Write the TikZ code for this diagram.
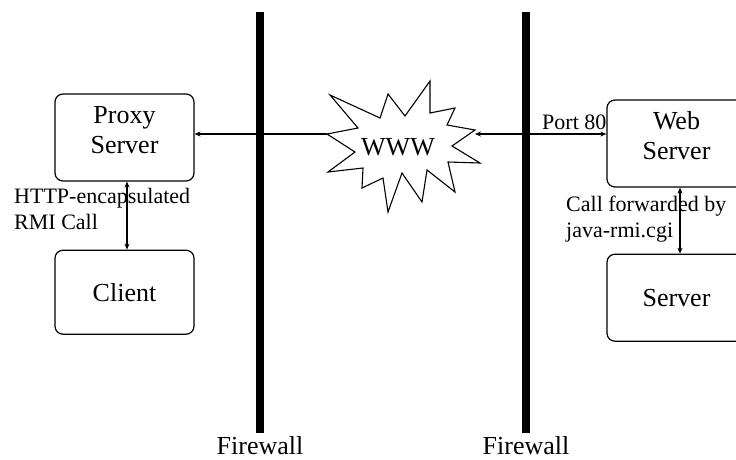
\documentclass[tikz,border=0pt]{standalone}
\usepackage{fontspec}
\setmainfont{Liberation Serif}
\usetikzlibrary{positioning,arrows.meta}

\tikzset{
	box/.style={draw, line width=1.2pt, rounded corners=8pt, minimum width=139pt, minimum height=87pt, align=center, font=\fontsize{26}{30}\selectfont},
	twoline/.style={text depth=16pt},
	wall/.style={line width=8pt},
	link/.style={line width=1.1pt, >={Stealth[length=6pt,width=5pt]}},
	lbl/.style={inner sep=0pt, align=left, font=\fontsize{22}{26}\selectfont},
}

\begin{document}
\begin{tikzpicture}[x=1pt, y=-1pt]
	\useasboundingbox (0,0) rectangle (736,459);
	\clip (0,0) rectangle (736,459);

	\node[box, twoline] (proxy) at (124.5,137.5) {Proxy\\Server};
	\node[box, minimum height=84pt, below=68pt of proxy] (client) {Client};
	\node[box, twoline] (web) at (676.5,143.5) {Web\\Server};
	\node[box, below=66pt of web] (server) {Server};

	% firewalls
	\coordinate (fwa) at (260,12);
	\coordinate (fwb) at (260,433);
	\coordinate (fwc) at (526,12);
	\coordinate (fwd) at (526,433);
	\draw[wall] (fwa) -- (fwb);
	\draw[wall] (fwc) -- (fwd);
	\node[inner sep=0pt, font=\fontsize{26}{30}\selectfont, anchor=base] (fwlabela) at (260,454) {Firewall};
	\node[inner sep=0pt, font=\fontsize{26}{30}\selectfont, anchor=base] (fwlabelb) at (526,454) {Firewall};

	% WWW cloud
	\draw[line width=1.1pt, line join=miter] (330,95) -- (380,118) -- (388,94) -- (405,116) -- (430,81)
		-- (430,113) -- (455,108) -- (447,125) -- (475,130) -- (452,146) -- (480,163)
		-- (448,162) -- (455,192) -- (427,170) -- (422,202) -- (402,173) -- (388,212)
		-- (383,178) -- (362,188) -- (363,168) -- (328,172) -- (355,152) -- (327,134)
		-- (358,128) -- cycle;
	\node[font=\fontsize{26}{30}\selectfont] (www) at (398,147) {WWW};
	\coordinate (wwwl) at (327,134);
	\coordinate (wwwr) at (475,134);

	\draw[link, ->] (wwwl) -- (proxy.east |- wwwl);
	\draw[link, <->] (wwwr) -- (web.west |- wwwr);
	\draw[link, <->] ([xshift=2.5pt]proxy.south) -- ([xshift=2.5pt]client.north);
	\draw[link, <->] ([xshift=3.5pt]web.south) -- ([xshift=3.5pt]server.north);

	\node[lbl, anchor=base west] (port) at (542,129) {Port 80};
	\node[lbl, anchor=north west] (tunnel) at (14,188) {HTTP-encapsulated\\RMI Call};
	\node[lbl, anchor=north west] (cgi) at (566,196) {Call forwarded by\\java-rmi.cgi};
\end{tikzpicture}
\end{document}
